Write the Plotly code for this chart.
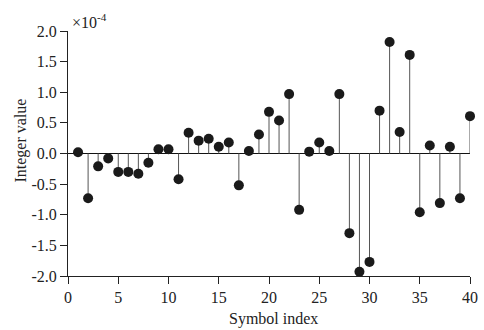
import plotly.graph_objects as go

symbol_index = list(range(1, 41))
values = [0.02, -0.73, -0.21, -0.08, -0.30, -0.30, -0.33, -0.15, 0.07, 0.07,
          -0.42, 0.34, 0.21, 0.24, 0.11, 0.18, -0.52, 0.04, 0.31, 0.68,
          0.54, 0.97, -0.92, 0.03, 0.18, 0.04, 0.97, -1.30, -1.93, -1.77,
          0.70, 1.82, 0.35, 1.61, -0.96, 0.13, -0.81, 0.11, -0.73, 0.61]
x_ticks = [0, 5, 10, 15, 20, 25, 30, 35, 40]
y_ticks = [-2.0, -1.5, -1.0, -0.5, 0.0, 0.5, 1.0, 1.5, 2.0]
y_ticklabels = ["-2.0", "-1.5", "-1.0", "-0.5", "0.0", "0.5", "1.0", "1.5", "2.0"]

stem_x, stem_y = [], []
for xi, yi in zip(symbol_index, values):
    stem_x += [xi, xi, None]
    stem_y += [0, yi, None]

fig = go.Figure()
fig.add_trace(go.Scatter(x=stem_x, y=stem_y, mode="lines",
                         line=dict(color="#555555", width=1), hoverinfo="skip",
                         cliponaxis=False))
fig.add_trace(go.Scatter(x=symbol_index, y=values, mode="markers",
                         marker=dict(color="#1a1a1a", size=10, symbol="circle"),
                         cliponaxis=False))

font = dict(family="Liberation Serif", size=16, color="#222222")
fig.update_layout(
    width=484, height=330,
    margin=dict(l=68, r=14, t=31, b=54),
    paper_bgcolor="white", plot_bgcolor="white",
    showlegend=False, font=font,
    xaxis=dict(range=[0, 40], tickvals=x_ticks, showline=True, linecolor="#222222",
               linewidth=1, ticks="outside", ticklen=7, tickcolor="#222222",
               tickfont=font, showgrid=False, zeroline=False, automargin=False),
    yaxis=dict(range=[-2, 2], tickvals=y_ticks, ticktext=y_ticklabels, showline=True,
               linecolor="#222222", linewidth=1, ticks="outside", ticklen=7,
               tickcolor="#222222", tickfont=font, showgrid=False, zeroline=True,
               zerolinecolor="#111111", zerolinewidth=1, automargin=False),
    annotations=[
        dict(text="×10<sup>-4</sup>", x=0.005, y=1.04, xref="paper", yref="paper",
             xanchor="left", yanchor="middle", showarrow=False, font=font),
        dict(text="Integer value", x=-0.1157, y=0.555, xref="paper", yref="paper",
             xanchor="center", yanchor="middle", textangle=-90, showarrow=False,
             font=font),
        dict(text="Symbol index", x=0.512, y=-0.1735, xref="paper", yref="paper",
             xanchor="center", yanchor="middle", showarrow=False, font=font),
    ],
)
fig.write_html("out.html", config={"displayModeBar": False},
               post_script="document.body.style.margin='0';document.body.style.overflow='hidden';")
